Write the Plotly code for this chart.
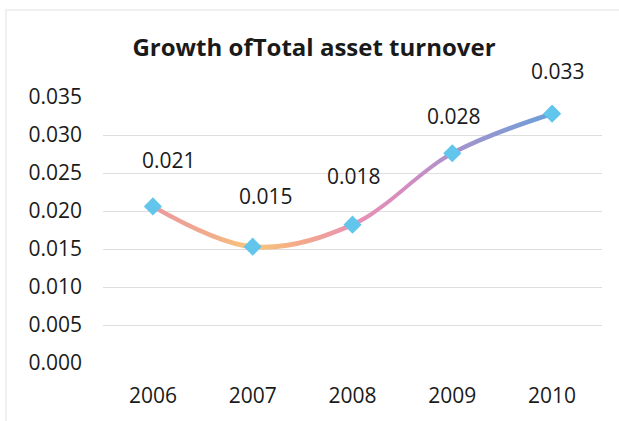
import plotly.graph_objects as go

# Data
years = ["2006", "2007", "2008", "2009", "2010"]
turnover_growth = [0.0206, 0.0153, 0.0182, 0.0276, 0.0328]
y_ticks = [0.000, 0.005, 0.010, 0.015, 0.020, 0.025, 0.030, 0.035]
chart_title = "Growth ofTotal asset turnover"

# Styling
W, H = 619, 421
MARGIN = dict(l=103, r=17, t=97, b=58)
Y_RANGE = [0.0, 0.035]
LINE_PX = 5.0
FONT = "Open Sans"
TEXT_COLOR = "#1a1a1a"
GRID_COLOR = "#dedede"
MARKER_COLOR = "#62c6ec"
LINE_SCALE = [
    [0.00, "#ec989f"],
    [0.15, "#f2ad8a"],
    [0.25, "#f8c878"],
    [0.38, "#f3a68c"],
    [0.50, "#e893b4"],
    [0.63, "#d68cc0"],
    [0.75, "#a892cc"],
    [1.00, "#6b9fd8"],
]
# per-label offsets (px) of the value labels from their markers
LABEL_DX = [16, 13, 1, 2, 6]
LABEL_DY = [46, 51, 49, 37, 43]

plot_h = H - MARGIN["t"] - MARGIN["b"]
half_w = LINE_PX / 2 * (Y_RANGE[1] - Y_RANGE[0]) / plot_h

fig = go.Figure()

# smooth line drawn as a thin band so it can carry a horizontal colour gradient
fig.add_trace(go.Scatter(
    x=years, y=[v - half_w for v in turnover_growth],
    mode="lines", line=dict(shape="spline", width=0),
    hoverinfo="skip", showlegend=False,
))
fig.add_trace(go.Scatter(
    x=years, y=[v + half_w for v in turnover_growth],
    mode="lines", line=dict(shape="spline", width=0),
    fill="tonexty",
    fillgradient=dict(type="horizontal", colorscale=LINE_SCALE),
    hoverinfo="skip", showlegend=False,
))

# diamond markers
fig.add_trace(go.Scatter(
    x=years, y=turnover_growth, mode="markers",
    marker=dict(symbol="diamond", size=14, color=MARKER_COLOR,
                line=dict(width=0)),
    showlegend=False,
))

# value labels (x given as category index)
for i, v in enumerate(turnover_growth):
    fig.add_annotation(
        x=i, y=v, xref="x", yref="y", text=f"{v:.3f}", showarrow=False,
        xshift=LABEL_DX[i], yshift=LABEL_DY[i],
        font=dict(family=FONT, size=21, color=TEXT_COLOR),
    )

# faint outer frame of the chart
fig.add_shape(
    type="rect", xref="paper", yref="paper",
    x0=(6 - MARGIN["l"]) / (W - MARGIN["l"] - MARGIN["r"]),
    x1=(640 - MARGIN["l"]) / (W - MARGIN["l"] - MARGIN["r"]),
    y0=-(440 - (H - MARGIN["b"])) / plot_h,
    y1=((H - MARGIN["b"]) - 10) / plot_h,
    line=dict(color="#ececec", width=1.5), layer="below",
)

fig.update_layout(
    width=W, height=H, margin=MARGIN,
    paper_bgcolor="white", plot_bgcolor="white",
    title=dict(text=f"<b>{chart_title}</b>", x=314 / W, xanchor="center",
               y=1 - 48 / H, yanchor="middle",
               font=dict(family=FONT, size=24, color=TEXT_COLOR)),
    font=dict(family=FONT, size=21, color=TEXT_COLOR),
)
fig.update_xaxes(
    type="category", range=[-0.5, 4.5],
    showgrid=False, showline=False, zeroline=False,
    ticks="", ticklabelstandoff=18,
    tickfont=dict(family=FONT, size=21, color=TEXT_COLOR),
)
fig.update_yaxes(
    range=Y_RANGE, tickvals=y_ticks,
    ticktext=[f"{t:.3f}" for t in y_ticks],
    showgrid=True, gridcolor=GRID_COLOR, gridwidth=1,
    zeroline=False, showline=False, ticks="", ticklabelstandoff=20,
    tickfont=dict(family=FONT, size=21, color=TEXT_COLOR),
)

fig.write_html("out.html")
